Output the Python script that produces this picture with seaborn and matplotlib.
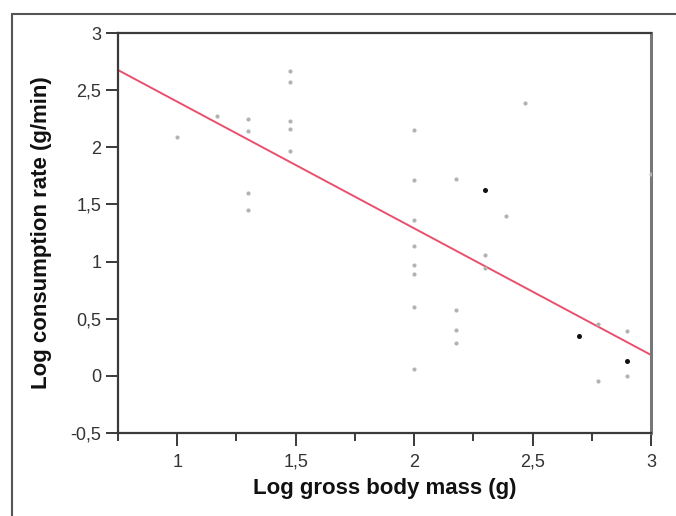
import numpy as np
import pandas as pd
import matplotlib
matplotlib.use("Agg")
import matplotlib.pyplot as plt
from matplotlib.patches import Rectangle
from matplotlib.ticker import MultipleLocator
import seaborn as sns

# log10 body mass (g) vs log10 consumption rate (g/min)
mass_gray = [1.0, 1.17, 1.30, 1.30, 1.30, 1.30, 1.477, 1.477, 1.477, 1.477, 1.477,
             2.0, 2.0, 2.0, 2.0, 2.0, 2.0, 2.0, 2.0,
             2.176, 2.176, 2.176, 2.176, 2.30, 2.30, 2.39, 2.47,
             2.775, 2.775, 2.90, 2.90, 3.0]
rate_gray = [2.09, 2.27, 2.25, 2.14, 1.60, 1.45, 2.67, 2.57, 2.23, 2.16, 1.97,
             2.15, 1.71, 1.36, 1.14, 0.97, 0.89, 0.60, 0.06,
             1.72, 0.58, 0.40, 0.29, 1.06, 0.94, 1.40, 2.39,
             0.45, -0.045, 0.39, 0.0, 1.77]
mass_black = [2.30, 2.696, 2.90]
rate_black = [1.63, 0.35, 0.13]

# fitted regression line, end points at the axis limits
fit_x = [0.75, 3.0]
fit_y = [2.676, 0.183]

xtick_vals = [1, 1.5, 2, 2.5, 3]
xtick_labels = ["1", "1,5", "2", "2,5", "3"]
ytick_vals = [-0.5, 0, 0.5, 1, 1.5, 2, 2.5, 3]
ytick_labels = ["-0,5", "0", "0,5", "1", "1,5", "2", "2,5", "3"]

sns.set_theme(style="ticks")
plt.rcParams["font.family"] = ["Liberation Sans", "DejaVu Sans"]

gray_df = pd.DataFrame({"mass": mass_gray, "rate": rate_gray})
black_df = pd.DataFrame({"mass": mass_black, "rate": rate_black})

fig = plt.figure(figsize=(6.76, 5.16), dpi=100)
ax = fig.add_axes([118 / 676, 1 - 433 / 516, (651 - 118) / 676, (433 - 33) / 516])

sns.scatterplot(data=gray_df, x="mass", y="rate", color="#b3b3b3", s=9,
                linewidth=0, ax=ax, zorder=3)
sns.scatterplot(data=black_df, x="mass", y="rate", color="#111111", s=13,
                linewidth=0, ax=ax, zorder=4)
sns.lineplot(x=fit_x, y=fit_y, color="#e9506b", linewidth=1.4, ax=ax, zorder=2)

ax.set_xlim(0.75, 3)
ax.set_ylim(-0.5, 3)
ax.set_xticks(xtick_vals)
ax.set_xticklabels(xtick_labels)
ax.xaxis.set_minor_locator(MultipleLocator(0.25))
ax.set_yticks(ytick_vals)
ax.set_yticklabels(ytick_labels)

ax.tick_params(axis="both", which="major", direction="out", length=9, width=1.4,
               color="#3a3a3a", labelsize=13, labelcolor="#333333", pad=3)
ax.tick_params(axis="x", which="minor", direction="out", length=6, width=1.4,
               color="#3a3a3a")
ax.tick_params(axis="x", which="major", pad=6)

for side in ["left", "top", "bottom"]:
    ax.spines[side].set_color("#3a3a3a")
    ax.spines[side].set_linewidth(1.6)
ax.spines["right"].set_color("#777777")
ax.spines["right"].set_linewidth(2.2)

ax.set_xlabel("Log gross body mass (g)", fontsize=16, fontweight="bold",
              color="#111111", labelpad=5)
ax.set_ylabel("Log consumption rate (g/min)", fontsize=16, fontweight="bold",
              color="#111111")
ax.yaxis.set_label_coords(-0.124, 0.5)

# outer frame of the original figure
fig.patches.append(Rectangle((12 / 676, -0.2), 1.2, 1.2 - 14 / 516,
                             transform=fig.transFigure, fill=False,
                             edgecolor="#555555", linewidth=1.5))

fig.savefig("out.png", dpi=100)
